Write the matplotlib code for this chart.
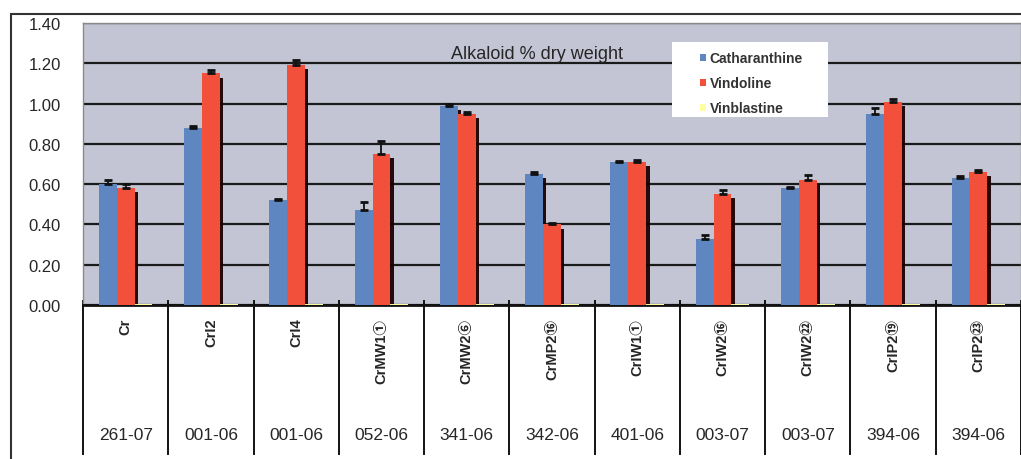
import numpy as np
import matplotlib.pyplot as plt
import matplotlib.patheffects as pe
from matplotlib.patches import Rectangle
from matplotlib.lines import Line2D

# sample lines and their lot numbers
lines_names = ['Cr', 'CrI2', 'CrI4', 'CrMW1①', 'CrMW2⑥', 'CrMP2⑯',
               'CrIW1①', 'CrIW2⑯', 'CrIW2㉒', 'CrIP2⑲', 'CrIP2㉓']
lot_ids = ['261-07', '001-06', '001-06', '052-06', '341-06', '342-06',
           '401-06', '003-07', '003-07', '394-06', '394-06']

# alkaloid content, % dry weight
catharanthine = [0.60, 0.88, 0.52, 0.47, 0.99, 0.65, 0.71, 0.33, 0.58, 0.95, 0.63]
catharanthine_err = [0.02, 0.008, 0.005, 0.04, 0.008, 0.012, 0.006, 0.018, 0.005, 0.03, 0.008]
vindoline = [0.58, 1.15, 1.19, 0.75, 0.95, 0.40, 0.71, 0.55, 0.62, 1.01, 0.66]
vindoline_err = [0.02, 0.015, 0.025, 0.065, 0.008, 0.006, 0.01, 0.02, 0.025, 0.015, 0.012]
vinblastine = [0.004, 0.004, 0.004, 0.004, 0.004, 0.004, 0.004, 0.004, 0.004, 0.004, 0.004]

c_blue = '#5E86C1'
c_red = '#F2503A'
c_yellow = '#FFFFA0'
txt = '#262626'

W, H = 1021, 460
fig = plt.figure(figsize=(W / 100, H / 100), dpi=100)
ax = fig.add_axes([83 / W, 1 - 306 / H, 1 - 83 / W, 282 / H])
ax.set_facecolor('#C3C5D4')

x = np.arange(len(lines_names))
w = 0.21
shadow = [pe.SimplePatchShadow(offset=(2.4, -3), shadow_rgbFace='#1a0000', alpha=0.95), pe.Normal()]

ax.bar(x - w, catharanthine, w, color=c_blue, label='Catharanthine',
       path_effects=shadow, zorder=3)
ax.bar(x, vindoline, w, color=c_red, label='Vindoline',
       path_effects=shadow, zorder=3)
ax.bar(x + w, vinblastine, w, color=c_yellow, label='Vinblastine',
       path_effects=shadow, zorder=3)

# upper error bars only
zeros = np.zeros(len(x))
ax.errorbar(x - w, catharanthine, yerr=[zeros, catharanthine_err], fmt='none',
            ecolor='#111111', elinewidth=1.3, capsize=2.8, capthick=2, zorder=4)
ax.errorbar(x, vindoline, yerr=[zeros, vindoline_err], fmt='none',
            ecolor='#111111', elinewidth=1.3, capsize=2.8, capthick=2, zorder=4)

ax.set_xlim(-0.5, len(x) - 0.5)
ax.set_ylim(0, 1.4)
yt = np.arange(0, 1.41, 0.2)
ax.set_yticks(yt)
ax.set_yticklabels(['%.2f' % v for v in yt], fontsize=12,
                   family='Liberation Sans', color=txt)
ax.set_xticks([])
ax.tick_params(axis='y', length=0, pad=16)
ax.yaxis.grid(True, color='#1a1a1a', lw=1.6)
ax.set_axisbelow(True)
for s in ['top', 'left', 'right']:
    ax.spines[s].set_color('#8a8a8a')
    ax.spines[s].set_linewidth(1)
ax.spines['bottom'].set_color('#111111')
ax.spines['bottom'].set_linewidth(2)

ax.text(4.82, 1.205, 'Alkaloid % dry weight', ha='center', va='bottom',
        fontsize=13, family='Liberation Sans', color=txt, zorder=5)

# legend on a white panel
ax.add_patch(Rectangle(((672 - 83) / 938, 1 - (118 - 24) / 282), 156 / 938, 75 / 282,
                       transform=ax.transAxes, facecolor='white', edgecolor='none',
                       zorder=5))
leg = ax.legend(loc='upper left', bbox_to_anchor=((700 - 83) / 938, 1 - (52 - 24) / 282),
                frameon=False, handlelength=0.4, handleheight=0.4, handletextpad=0.3,
                labelspacing=0.8, borderpad=0, borderaxespad=0,
                prop={'family': 'Liberation Sans', 'size': 10, 'weight': 'bold'})
leg.set_zorder(6)
for t in leg.get_texts():
    t.set_color('#333333')
for h in leg.legend_handles:
    h.set_path_effects([])

# category table under the plot
trans = ax.get_xaxis_transform()
for b in np.arange(-0.5, len(x), 1.0):
    ax.add_line(Line2D([b, b], [0.015, -0.53], transform=trans, color='#111111',
                       lw=1.4, clip_on=False))
for i in x:
    ax.text(i, -0.045, lines_names[i], rotation=90, ha='center', va='top',
            fontsize=10.5, weight='bold', family=['Liberation Sans', 'Noto Sans CJK JP'],
            color=txt, transform=trans)
    ax.text(i, -0.458, lot_ids[i], ha='center', va='center', fontsize=12.5,
            family='Liberation Sans', color=txt, transform=trans)

# outer frame
fig.add_artist(Rectangle((11 / W, -0.05), 1.2, (H - 15) / H + 0.05,
                         transform=fig.transFigure, fill=False,
                         edgecolor='#333333', lw=1.5))

fig.savefig('out.png', dpi=100)
